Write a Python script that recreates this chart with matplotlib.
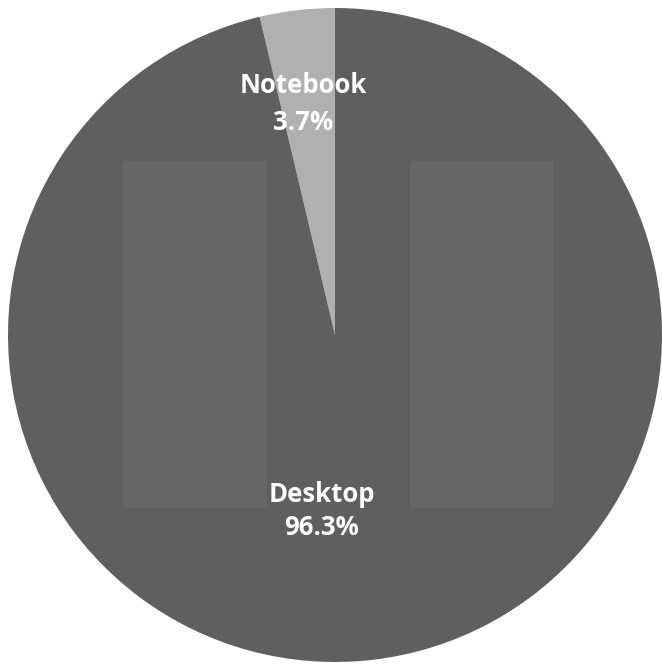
import matplotlib
matplotlib.use("Agg")
import matplotlib.pyplot as plt
from matplotlib.patches import Rectangle

# Share of units by form factor
categories = ["Notebook", "Desktop"]
shares = [3.7, 96.3]
colors = ["#b0b0b0", "#5f5f5f"]

W, H = 662, 669
DPI = 100
fig = plt.figure(figsize=(W / DPI, H / DPI), dpi=DPI)
fig.patch.set_facecolor("white")
ax = fig.add_axes([0, 0, 1, 1])

# pie centre and radius in pixels
cx, cy_top, r = 335, 335, 327
cy = H - cy_top

wedges, _ = ax.pie(shares, colors=colors, startangle=90, counterclock=True,
                   radius=1.0, center=(0, 0), frame=True,
                   wedgeprops=dict(linewidth=0, antialiased=True))
ax.set_xlim(-cx / r, (W - cx) / r)
ax.set_ylim(-cy / r, (H - cy) / r)
ax.set_aspect("equal")
ax.axis("off")
for w in wedges:
    w.set_zorder(0.2)

# faint lighter panels behind the labels
for x0, x1 in [(123, 267), (410, 553)]:
    y0, y1 = 161, 508
    ax.add_patch(Rectangle(((x0 - cx) / r, (cy_top - y1) / r),
                           (x1 - x0) / r, (y1 - y0) / r,
                           facecolor="#666666", edgecolor="none", zorder=0.5))

label_style = {"Notebook": ((303, 104), 1.5), "Desktop": ((322, 511), 1.3)}
for name, val in zip(categories, shares):
    (px, py), ls = label_style[name]
    ax.text((px - cx) / r, (cy_top - py) / r, f"{name}\n{val}%",
            ha="center", va="center", color="white", fontsize=18.5,
            fontweight="bold", family=["Open Sans", "DejaVu Sans"],
            linespacing=ls, zorder=3)

fig.savefig("out.png", dpi=DPI, facecolor="white")
